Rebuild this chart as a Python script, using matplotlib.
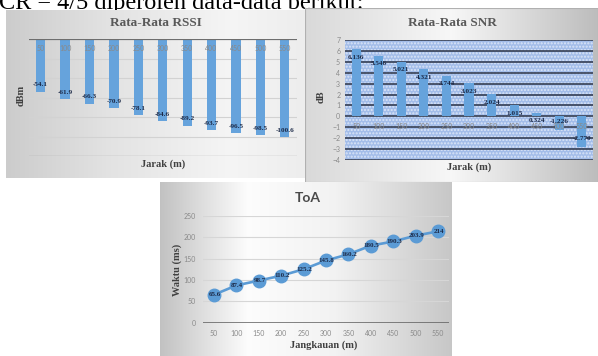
import numpy as np
import matplotlib
matplotlib.use("Agg")
import matplotlib.pyplot as plt
from matplotlib.patches import Rectangle

# ---- data -------------------------------------------------------------
distances = [50, 100, 150, 200, 250, 300, 350, 400, 450, 500, 550]
rssi_dbm = [-54.1, -61.9, -66.3, -70.9, -78.1, -84.6, -89.2, -93.7, -96.5, -98.5, -100.6]
snr_db = [6.136, 5.546, 5.021, 4.321, 3.744, 3.023, 2.024, 1.015, 0.324, -1.226, -2.770]
toa_ms = [65.6, 87.4, 98.7, 110.2, 125.2, 145.8, 160.2, 180.5, 190.3, 203.9, 214]
rssi_label_fmt = [f"{v:.1f}" for v in rssi_dbm]
snr_label_fmt = [f"{v:.3f}" for v in snr_db]
toa_label_fmt = [f"{v:g}" for v in toa_ms]

# ---- figure helpers ---------------------------------------------------
W, H = 598, 356
fig = plt.figure(figsize=(W / 100, H / 100), dpi=100)
fig.patch.set_facecolor("white")

SERIF = ["Liberation Serif", "DejaVu Serif"]
SANS = ["Lato", "DejaVu Sans"]
BAR = "#66a3dc"
NAVY = "#1c2a48"
TICK = "#8a8a8a"
TITLE = "#595959"


def rect(x0, y0, x1, y1):
    return [x0 / W, 1 - y1 / H, (x1 - x0) / W, (y1 - y0) / H]


def ftext(x, y, s, **kw):
    return fig.text(x / W, 1 - y / H, s, **kw)


def pt(px):
    return px * 0.72


def panel(x0, y0, x1, y1, xs, vals, edge=None):
    ax = fig.add_axes(rect(x0, y0, x1, y1))
    t = np.linspace(0, 1, 400)
    row = np.interp(t, xs, vals)
    img = np.tile(row, (40, 1))
    ax.imshow(np.dstack([img] * 3), aspect="auto", extent=[0, 1, 0, 1],
              interpolation="bilinear", vmin=0, vmax=1)
    ax.set_axis_off()
    if edge:
        ax.add_patch(Rectangle((0, 0), 1, 1, transform=ax.transAxes,
                               fill=False, edgecolor=edge, lw=0.8))
    return ax


# heading line of the page (its upper part runs off the top edge,
# the chart panels sit on top of its descenders)
ftext(-1, 9.5, "CR = 4/5 diperoleh data-data berikut:", family=SERIF,
      fontsize=17.5, color="black", va="baseline", ha="left", zorder=-1)

# ---- RSSI panel --------------------------------------------------------
panel(6, 10, 305, 178, [0, 0.35, 0.75, 1], [0.80, 0.89, 0.96, 0.93])
ax1 = fig.add_axes(rect(28.5, 39, 297, 156))
ax1.set_facecolor("none")
x = np.arange(len(distances))
ax1.bar(x, rssi_dbm, width=0.38, color=BAR, zorder=2)
ax1.set_xlim(-0.5, len(distances) - 0.5)
ax1.set_ylim(-120, 0)
for g in range(-100, 0, 20):
    ax1.axhline(g, color="#d2d2d2", lw=0.8, zorder=1)
ax1.axhline(-120, color="#9a9a9a", lw=0.9, zorder=1)
ax1.axhline(0, color="#6e6e6e", lw=1.6, zorder=3)
for sp in ax1.spines.values():
    sp.set_visible(False)
ax1.set_xticks([])
ax1.set_yticks([])
for i, d in enumerate(distances):
    ax1.annotate(str(d), xy=(i, 0), xytext=(0, -pt(9.5)), textcoords="offset points",
                 ha="center", va="center", fontsize=5, color=TICK, family=SANS, zorder=4)
for i, v in enumerate(rssi_dbm):
    ax1.annotate(rssi_label_fmt[i], xy=(i, v), xytext=(0, pt(7)), textcoords="offset points",
                 ha="center", va="center", fontsize=5.2, color=NAVY, family=SERIF,
                 fontweight="bold", zorder=5)
ftext(155.5, 23, "Rata-Rata RSSI", family=SERIF, fontsize=9.5, fontweight="bold",
      color=TITLE, ha="center", va="center")
ftext(21.5, 95, "dBm", family=SERIF, fontsize=7.5, fontweight="bold",
      color="#404040", ha="center", va="center", rotation=90)
ftext(163, 164, "Jarak (m)", family=SERIF, fontsize=7.5, fontweight="bold",
      color="#404040", ha="center", va="center")

# ---- SNR panel ---------------------------------------------------------
panel(305, 8, 598, 182, [0, 0.5, 1], [0.85, 0.97, 0.74], edge="#b0b0b0")
ax2 = fig.add_axes(rect(345, 40, 593, 160))
ax2.set_facecolor("none")
ax2.add_patch(Rectangle((0, 0), 1, 1, transform=ax2.transAxes, facecolor="#a3bde9",
                        edgecolor="#dbe5f7", hatch=".....", lw=0, zorder=0))
ax2.bar(x, snr_db, width=0.4, color=BAR, zorder=2)
ax2.set_xlim(-0.5, len(distances) - 0.5)
ax2.set_ylim(-4, 7)
for g in range(-4, 8):
    ax2.axhline(g, color="#2b3346", lw=1.1, zorder=1)
for sp in ax2.spines.values():
    sp.set_visible(False)
ax2.set_xticks([])
ax2.set_yticks(range(-4, 8))
ax2.tick_params(axis="y", length=0, pad=3.5, labelsize=5, labelcolor=TICK)
for lab in ax2.get_yticklabels():
    lab.set_family(SANS)
for i, d in enumerate(distances):
    ax2.annotate(str(d), xy=(i, 0), xytext=(0, -pt(10)), textcoords="offset points",
                 ha="center", va="center", fontsize=5, color=TICK, family=SANS, zorder=4)
for i, v in enumerate(snr_db):
    off = -pt(8) if v >= 0 else pt(8)
    ax2.annotate(snr_label_fmt[i], xy=(i, v), xytext=(0, off), textcoords="offset points",
                 ha="center", va="center", fontsize=5.2, color=NAVY, family=SERIF,
                 fontweight="bold", zorder=5)
ftext(452, 23, "Rata-Rata SNR", family=SERIF, fontsize=9.5, fontweight="bold",
      color=TITLE, ha="center", va="center")
ftext(321.5, 97, "dB", family=SERIF, fontsize=7.5, fontweight="bold",
      color="#404040", ha="center", va="center", rotation=90)
ftext(469, 167, "Jarak (m)", family=SERIF, fontsize=7.5, fontweight="bold",
      color="#404040", ha="center", va="center")

# ---- ToA panel ---------------------------------------------------------
panel(160, 182, 452, 356, [0, 0.3, 0.6, 1], [0.76, 0.99, 0.95, 0.78])
ax3 = fig.add_axes(rect(202.8, 216, 449.2, 322.7))
ax3.set_facecolor("none")
ax3.set_xlim(-0.5, len(distances) - 0.5)
ax3.set_ylim(0, 250)
for g in range(50, 251, 50):
    ax3.axhline(g, color="#d6d6d6", lw=0.8, zorder=1)
ax3.axhline(0, color="#5e5e5e", lw=1.8, zorder=2)
ax3.plot(x, toa_ms, color="#5b9bd5", lw=1.9, marker="o", markersize=9,
         markerfacecolor="#5b9bd5", markeredgecolor="#5b9bd5", zorder=3)
for i, v in enumerate(toa_ms):
    ax3.annotate(toa_label_fmt[i], xy=(i, v), xytext=(0.5, 0), textcoords="offset points",
                 ha="center", va="center", fontsize=5, color=NAVY, family=SERIF,
                 fontweight="bold", zorder=4)
for sp in ax3.spines.values():
    sp.set_visible(False)
ax3.set_xticks(x, [str(d) for d in distances])
ax3.set_yticks(range(0, 251, 50))
ax3.tick_params(length=0, labelsize=5, labelcolor=TICK)
ax3.tick_params(axis="x", pad=5.5)
ax3.tick_params(axis="y", pad=5)
for lab in ax3.get_xticklabels() + ax3.get_yticklabels():
    lab.set_family(SANS)
ftext(308, 198, "ToA", family=SANS, fontsize=10, fontweight="bold",
      color="#4a4a4a", ha="center", va="center")
ftext(177, 270, "Waktu (ms)", family=SERIF, fontsize=7.5, fontweight="bold",
      color="#404040", ha="center", va="center", rotation=90)
ftext(324, 345, "Jangkauan (m)", family=SERIF, fontsize=7.5, fontweight="bold",
      color="#404040", ha="center", va="center")

fig.savefig("out.png", dpi=100, facecolor="white")
